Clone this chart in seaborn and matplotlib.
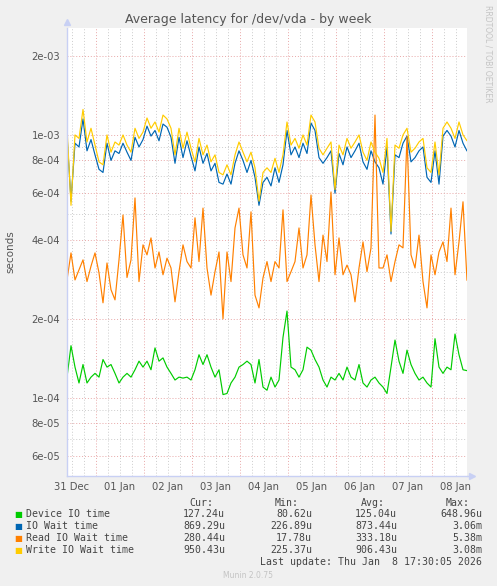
import numpy as np
import pandas as pd
import matplotlib
matplotlib.use("Agg")
import matplotlib.pyplot as plt
import matplotlib.dates as mdates
from matplotlib.ticker import FixedLocator, NullFormatter, FuncFormatter
import seaborn as sns

# samples every 2 hours, values in microseconds
start_time = "2025-12-31 09:30"
end_time = "2026-01-08 17:30"
step = "2h"

device_io = [
    120, 158, 131, 114, 134, 114, 120, 124, 120, 140,
    131, 134, 124, 114, 120, 124, 120, 128, 138, 131,
    138, 128, 155, 138, 142, 131, 124, 117, 120, 119,
    120, 117, 128, 146, 134, 146, 131, 120, 128, 103,
    104, 114, 120, 131, 134, 138, 134, 114, 140, 110,
    107, 120, 110, 117, 170, 214, 131, 128, 120, 128,
    156, 152, 140, 131, 117, 110, 120, 117, 124, 117,
    131, 120, 117, 134, 114, 110, 117, 120, 114, 110,
    104, 131, 166, 138, 124, 152, 134, 124, 117, 120,
    114, 110, 168, 131, 124, 131, 128, 175, 146, 128,
    127,
]
io_wait = [
    1000, 560, 930, 900, 1150, 870, 960, 840, 740, 720,
    930, 800, 870, 850, 930, 860, 800, 980, 900, 960,
    1080, 990, 1040, 950, 1100, 1070, 980, 780, 980, 820,
    950, 830, 730, 900, 780, 850, 730, 780, 660, 650,
    710, 650, 780, 870, 800, 720, 800, 690, 540, 660,
    690, 640, 750, 660, 770, 1040, 840, 900, 820, 930,
    850, 1110, 1040, 820, 780, 820, 870, 600, 850, 770,
    900, 820, 870, 930, 790, 740, 870, 790, 750, 650,
    900, 420, 840, 820, 930, 990, 790, 820, 870, 900,
    690, 660, 870, 650, 990, 1040, 990, 900, 1040, 930,
    869,
]
read_wait = [
    281, 356, 281, 307, 335, 277, 317, 356, 299, 230,
    326, 258, 236, 335, 496, 287, 335, 576, 277, 382,
    350, 406, 312, 359, 294, 340, 312, 232, 302, 382,
    330, 312, 484, 330, 527, 312, 246, 302, 359, 200,
    359, 277, 443, 527, 350, 312, 510, 246, 220, 286,
    330, 277, 330, 312, 519, 277, 302, 330, 443, 312,
    350, 591, 382, 277, 416, 330, 607, 294, 406, 294,
    320, 294, 232, 312, 392, 302, 372, 1190, 312, 312,
    350, 277, 330, 382, 372, 985, 350, 312, 416, 277,
    220, 350, 294, 359, 392, 330, 527, 294, 392, 557,
    280,
]
write_wait = [
    1070, 540, 1000, 970, 1250, 940, 1060, 915, 790, 770,
    1000, 860, 940, 915, 1000, 915, 860, 1060, 970, 1025,
    1160, 1060, 1120, 1025, 1190, 1150, 1060, 840, 1060, 890,
    1025, 890, 790, 970, 840, 915, 790, 840, 720, 705,
    770, 705, 840, 940, 860, 790, 860, 750, 560, 720,
    750, 720, 815, 720, 840, 1120, 915, 970, 890, 1000,
    915, 1190, 1120, 890, 840, 890, 940, 620, 915, 840,
    970, 890, 940, 1000, 860, 800, 940, 860, 815, 720,
    970, 430, 915, 890, 1000, 1060, 860, 890, 940, 970,
    750, 720, 940, 705, 1060, 1120, 1060, 970, 1120, 1000,
    950,
]

series_names = ["Device IO time", "IO Wait time", "Read IO Wait time", "Write IO Wait time"]
series_colors = ["#00CC00", "#0066B3", "#FF8000", "#FFCC00"]
cur_vals = ["127.24u", "869.29u", "280.44u", "950.43u"]
min_vals = ["80.62u", "226.89u", "17.78u", "225.37u"]
avg_vals = ["125.04u", "873.44u", "333.18u", "906.43u"]
max_vals = ["648.96u", "3.06m", "5.38m", "3.08m"]

y_major = [6e-5, 8e-5, 1e-4, 2e-4, 4e-4, 6e-4, 8e-4, 1e-3, 2e-3]
y_minor = [5e-5, 7e-5, 9e-5, 3e-4, 5e-4, 7e-4, 9e-4]
y_limits = (5.05e-5, 2.55e-3)

title = "Average latency for /dev/vda - by week"
last_update = "Last update: Thu Jan  8 17:30:05 2026"

sns.set_theme(style="white")
plt.rcParams["font.family"] = ["DejaVu Sans"]

bg = "#F0F0F0"
text_col = "#555555"

# long-form table for seaborn
times = pd.date_range(start_time, periods=len(device_io), freq=step)
frames = []
for name, vals in zip(series_names, [device_io, io_wait, read_wait, write_wait]):
    frames.append(pd.DataFrame({"time": times,
                                "seconds": np.array(vals, dtype=float) / 1e6,
                                "series": name}))
df = pd.concat(frames, ignore_index=True)

fig = plt.figure(figsize=(4.97, 5.86), dpi=100, facecolor=bg)
ax = fig.add_axes([67 / 497, 110 / 586, 400 / 497, 448 / 586])
ax.set_facecolor("white")

sns.lineplot(data=df, x="time", y="seconds", hue="series", hue_order=series_names,
             palette=series_colors, linewidth=0.85, estimator=None, legend=False, ax=ax)

ax.set_yscale("log")
ax.set_ylim(*y_limits)
ax.set_xlim(pd.Timestamp(start_time), pd.Timestamp(end_time))

# y ticks
ax.yaxis.set_major_locator(FixedLocator(y_major))
ax.yaxis.set_minor_locator(FixedLocator(y_minor))
ax.yaxis.set_major_formatter(FuncFormatter(lambda v, p: f"{v:.0e}"))
ax.yaxis.set_minor_formatter(NullFormatter())

# x ticks: days as major grid, 6h minor grid, labels at noon
ax.xaxis.set_major_locator(mdates.DayLocator())
ax.xaxis.set_major_formatter(NullFormatter())
ax.xaxis.set_minor_locator(mdates.HourLocator(byhour=[0, 6, 12, 18]))


def noon_label(v, pos):
    d = mdates.num2date(v)
    return d.strftime("%d %b") if d.hour == 12 else ""


ax.xaxis.set_minor_formatter(FuncFormatter(noon_label))

ax.grid(which="major", color="#E8A8A8", linestyle=(0, (1, 2)), linewidth=0.7)
ax.grid(which="minor", color="#CCCCCC", linestyle=(0, (1, 2)), linewidth=0.7)
ax.set_axisbelow(True)

ax.tick_params(which="both", length=0, labelsize=7.2, colors=text_col)
ax.tick_params(axis="x", which="minor", pad=4)
ax.tick_params(axis="y", pad=5)
ax.set_xlabel("")
ax.set_ylabel("")

for s in ["top", "right"]:
    ax.spines[s].set_visible(False)
for s in ["left", "bottom"]:
    ax.spines[s].set_color("#C8D0F4")
    ax.spines[s].set_linewidth(1.0)
ax.plot([0], [1 + 6 / 448], marker="^", color="#C8D0F4", markersize=5,
        transform=ax.transAxes, clip_on=False)
ax.plot([1 + 5 / 400], [0], marker=">", color="#C8D0F4", markersize=5,
        transform=ax.transAxes, clip_on=False)
ax.plot([1, 1 + 5 / 400], [0, 0], color="#C8D0F4", linewidth=1.0,
        transform=ax.transAxes, clip_on=False)

# texts around the plot
fig.text(248 / 497, 1 - 19 / 586, title, ha="center", va="center",
         fontsize=9, color=text_col)
fig.text(10 / 497, 1 - 252 / 586, "seconds", rotation=90, ha="center", va="center",
         fontsize=7.5, color=text_col)
fig.text(488 / 497, 1 - 5 / 586, "RRDTOOL / TOBI OETIKER", rotation=270,
         ha="center", va="top", fontsize=5.5, color="#C4C4C4")

# legend block
mono = "DejaVu Sans Mono"
fs = 7.1
leg_col = "#444444"
W, H = 497, 586
for xr, head in zip([213, 299, 385, 470], ["Cur:", "Min:", "Avg:", "Max:"]):
    fig.text(xr / W, 1 - 503 / H, head, ha="right", va="center",
             family=mono, fontsize=fs, color=leg_col)
row_y = [514, 526, 538, 550]
for i, name in enumerate(series_names):
    y = 1 - row_y[i] / H
    fig.text(14 / W, y, "\u25A0", ha="left", va="center", family="DejaVu Sans",
             fontsize=6, color=series_colors[i])
    fig.text(26 / W, y, name, ha="left", va="center", family=mono,
             fontsize=fs, color=leg_col)
    for xr, col in zip([225, 312, 397, 482], [cur_vals, min_vals, avg_vals, max_vals]):
        fig.text(xr / W, y, col[i], ha="right", va="center", family=mono,
                 fontsize=fs, color=leg_col)
fig.text(482 / W, 1 - 562 / H, last_update, ha="right", va="center",
         family=mono, fontsize=fs, color=leg_col)
fig.text(248 / W, 1 - 575 / H, "Munin 2.0.75", ha="center", va="center",
         fontsize=5.5, color="#C4C4C4")

fig.savefig("out.png", dpi=100, facecolor=bg)
